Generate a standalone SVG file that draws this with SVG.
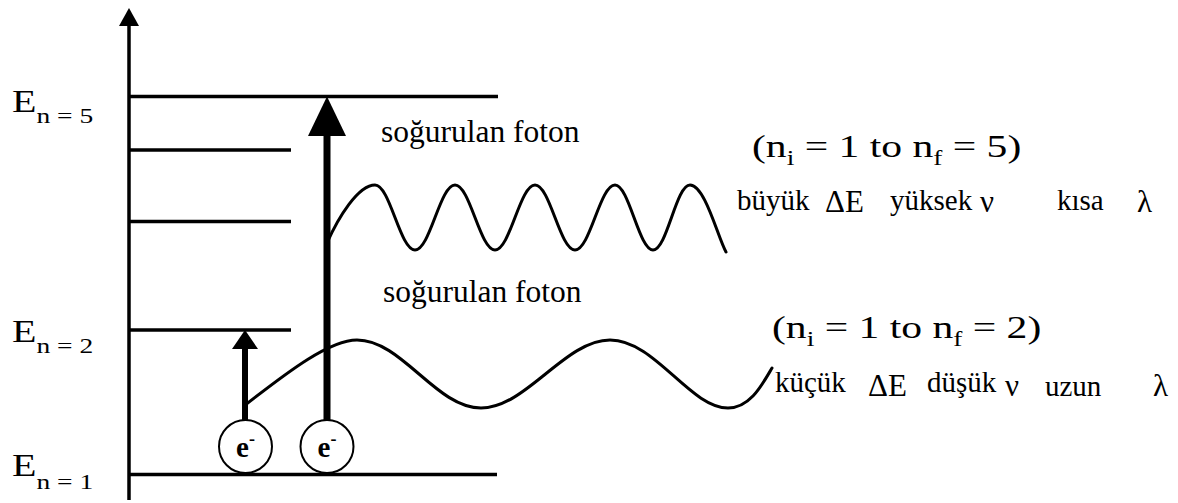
<svg xmlns="http://www.w3.org/2000/svg" width="1178" height="503" viewBox="0 0 1178 503">
<style>
.ln{stroke:#000;stroke-width:3.5;fill:none}
.wave{stroke:#000;stroke-width:3;fill:none;stroke-linecap:round}
.serif{font-family:"Liberation Serif","Times New Roman",serif;fill:#000}
.tr{font-size:29px}
.gr{font-size:31px}
.el{fill:#fff;stroke:#000;stroke-width:2}
</style>
<rect width="1178" height="503" fill="#fff"/>
<g id="axis">
<line class="ln" x1="129" y1="22" x2="129" y2="500"/>
<polygon points="129,8 119,26 139,26" fill="#000"/>
</g>
<g id="level-n5">
<line class="ln" x1="129" y1="96.5" x2="498" y2="96.5"/>
<text class="serif" transform="translate(12,112) scale(1.25,1)" font-size="32">E<tspan font-size="22" dy="11">n = 5</tspan></text>
</g>
<g id="level-n4"><line class="ln" x1="129" y1="150" x2="291" y2="150"/></g>
<g id="level-n3"><line class="ln" x1="129" y1="221.5" x2="291" y2="221.5"/></g>
<g id="level-n2">
<line class="ln" x1="129" y1="330" x2="291" y2="330"/>
<text class="serif" transform="translate(12,342) scale(1.25,1)" font-size="32">E<tspan font-size="22" dy="11">n = 2</tspan></text>
</g>
<g id="level-n1">
<line class="ln" x1="129" y1="474.5" x2="497" y2="474.5"/>
<text class="serif" transform="translate(12,476) scale(1.25,1)" font-size="32">E<tspan font-size="22" dy="13">n = 1</tspan></text>
</g>
<g id="connectors">
<line x1="245" y1="346" x2="245" y2="421" stroke="#000" stroke-width="6"/>
<polygon points="245,330 232,349 258,349" fill="#000"/>
<line x1="327" y1="132" x2="327" y2="421" stroke="#000" stroke-width="7"/>
<polygon points="327,96.5 308,136 346,136" fill="#000"/>
</g>
<g id="electron-1">
<circle class="el" cx="245.5" cy="446.5" r="26.5"/>
<text class="serif" x="245.5" y="457" text-anchor="middle" font-size="29" font-weight="bold">e<tspan font-size="18" dy="-12">-</tspan></text>
</g>
<g id="electron-2">
<circle class="el" cx="327" cy="446.5" r="26.5"/>
<text class="serif" x="327" y="457" text-anchor="middle" font-size="29" font-weight="bold">e<tspan font-size="18" dy="-12">-</tspan></text>
</g>
<g id="photon-high">
<path class="wave" d="M327,243 C338,218 358,185 375,185 C390,185 400,250 415,250 C430,250 440,185 455,185 C470,185 480,250 495,250 C510,250 520,185 535,185 C550,185 560,250 575,250 C590,250 600,185 615,185 C629,185 639,250 653,250 C667,250 676,185 690,185 C705,185 718,238 726,252"/>
<text class="serif" x="381" y="142" font-size="31.5">soğurulan foton</text>
<text class="serif" transform="translate(752,157) scale(1.3,1)" font-size="32">(n<tspan font-size="21" dy="8">i</tspan><tspan dy="-8"> = 1 to n</tspan><tspan font-size="21" dy="8">f</tspan><tspan dy="-8"> = 5)</tspan></text>
<text class="serif tr" x="737" y="210">büyük</text>
<text class="serif gr" x="825" y="212">ΔE</text>
<text class="serif tr" x="890" y="210">yüksek</text>
<text class="serif gr" x="980" y="212">ν</text>
<text class="serif tr" x="1057" y="210">kısa</text>
<text class="serif gr" x="1137" y="212">λ</text>
</g>
<g id="photon-low">
<path class="wave" d="M244,406 C290,370 330,340 357,340 C402,340 436,408 481,408 C526,408 565,340 610,340 C655,340 690,408 728,408 C750,408 762,385 772,368"/>
<text class="serif" x="383" y="302" font-size="31.5">soğurulan foton</text>
<text class="serif" transform="translate(772,338) scale(1.3,1)" font-size="32">(n<tspan font-size="21" dy="8">i</tspan><tspan dy="-8"> = 1 to n</tspan><tspan font-size="21" dy="8">f</tspan><tspan dy="-8"> = 2)</tspan></text>
<text class="serif tr" x="775" y="392">küçük</text>
<text class="serif gr" x="868" y="396">ΔE</text>
<text class="serif tr" x="927" y="392">düşük</text>
<text class="serif gr" x="1005" y="396">ν</text>
<text class="serif tr" x="1045" y="396">uzun</text>
<text class="serif gr" x="1153" y="396">λ</text>
</g>
</svg>
